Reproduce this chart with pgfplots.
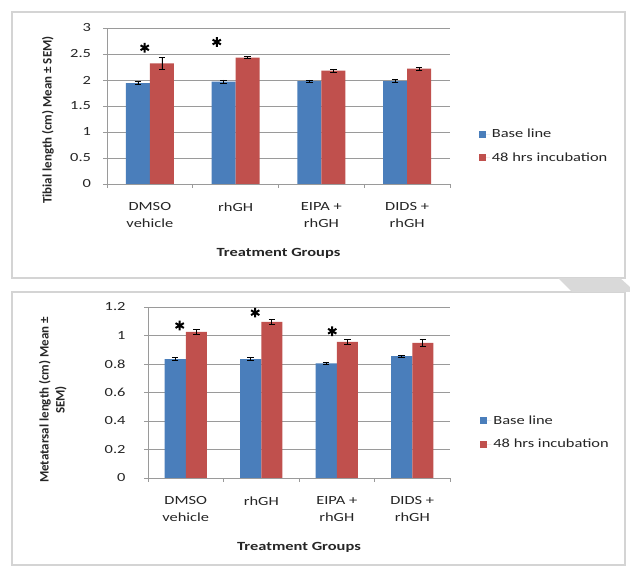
\documentclass[border=0pt]{standalone}
\usepackage{pgfplots}
\pgfplotsset{compat=1.18}
\usepackage{fontspec}
\setmainfont{Carlito}[FakeStretch=1.32]
\newfontfamily\plainC{Carlito}
\definecolor{blueC}{HTML}{4A7EBB}
\definecolor{redC}{HTML}{C0504D}
\definecolor{gridC}{HTML}{9A9A9A}
\definecolor{frameC}{HTML}{D4D4D4}
\definecolor{textC}{HTML}{262626}
\pgfplotsset{
  mystyle/.style={
    scale only axis, anchor=south west,
    xmin=-0.5, xmax=3.5, ymin=0,
    /pgf/number format/assume math mode=true,
    axis x line*=bottom, axis y line*=left,
    axis line style={draw=gridC, line width=0.8bp},
    ymajorgrids, major grid style={draw=gridC, line width=0.6bp},
    xtick={0,1,2,3},
    xticklabels={DMSO\\vehicle, rhGH, EIPA +\\rhGH, DIDS +\\rhGH},
    xticklabel style={align=center, font=\fontsize{12.5}{17}\selectfont, text=textC, yshift=-11bp},
    xtick style={draw=none},
    extra x ticks={-0.5,0.5,1.5,2.5,3.5}, extra x tick labels={},
    extra x tick style={xtick style={draw=gridC, line width=0.6bp}, grid=none},
    ytick style={draw=gridC, line width=0.6bp},
    tick align=outside, major tick length=4bp,
    yticklabel style={font=\fontsize{12.5}{15}\selectfont, text=textC, xshift=-8.5bp},
    xlabel={Treatment Groups},
    xlabel style={font=\bfseries\fontsize{12.5}{15}\selectfont, text=textC, anchor=center},
    ylabel style={font=\plainC\bfseries\fontsize{13}{16}\selectfont, text=textC, anchor=center, align=center},
    legend style={draw=none, fill=none, font=\fontsize{12.5}{15}\selectfont, text=textC, row sep=9bp, anchor=west},
    legend cell align=left,
  },
  bluebar/.style={ybar, bar width=0.28, bar shift=0pt, fill=blueC, draw=none,
    legend image code/.code={\fill[blueC] (0bp,-3.5bp) rectangle (7bp,3.5bp); \path (0bp,0bp) -- (11bp,0bp);},
    error bars/.cd, y dir=both, y explicit,
    error bar style={black, line width=0.7bp},
    error mark options={rotate=90, mark size=3.3bp, black, line width=0.7bp}},
  redbar/.style={ybar, bar width=0.28, bar shift=0pt, fill=redC, draw=none,
    legend image code/.code={\fill[redC] (0bp,-3.5bp) rectangle (7bp,3.5bp); \path (0bp,0bp) -- (11bp,0bp);},
    error bars/.cd, y dir=both, y explicit,
    error bar style={black, line width=0.7bp},
    error mark options={rotate=90, mark size=3.3bp, black, line width=0.7bp}},
  stars/.style={only marks, mark=asterisk, mark size=4.8bp, mark options={black, line width=2bp}, forget plot},
}
\begin{document}
\begin{tikzpicture}[x=1bp,y=1bp]
\fill[white] (0,0) rectangle (630,567);
% frames
\draw[frameC, line width=1.5bp] (12,555) rectangle (625,289);
\draw[frameC, line width=1.5bp] (12,275) rectangle (625,2);
\fill[black!15] (558,289) -- (620,289) -- (630,280) -- (630,275) -- (572,275) -- cycle;

% top chart
\begin{axis}[mystyle, at={(107bp,383bp)}, width=343bp, height=156bp,
  ymax=3, ytick={0,0.5,1,1.5,2,2.5,3},
  ylabel={Tibial length (cm) Mean ± SEM)},
  ylabel style={at={(rel axis cs:-0.172,0.41)}},
  xlabel style={at={(rel axis cs:0.5,-0.442)}},
  legend style={at={(rel axis cs:1.075,0.244)}}]
\addplot[bluebar] coordinates {(-0.14,1.94)+-(0,0.03) (0.86,1.97)+-(0,0.03) (1.86,1.98)+-(0,0.02) (2.86,1.98)+-(0,0.03)};
\addlegendentry{Base line}
\addplot[redbar] coordinates {(0.14,2.32)+-(0,0.11) (1.14,2.43)+-(0,0.02) (2.14,2.18)+-(0,0.03) (3.14,2.22)+-(0,0.03)};
\addlegendentry{48 hrs incubation}
\addplot[stars] coordinates {(-0.06,2.62) (0.78,2.73)};
\end{axis}

% bottom chart
\begin{axis}[mystyle, at={(148bp,89bp)}, width=302bp, height=171bp,
  ymax=1.2, ytick={0,0.2,0.4,0.6,0.8,1,1.2},
  ylabel={Metatarsal length (cm) Mean ±\\SEM)},
  ylabel style={at={(rel axis cs:-0.315,0.456)}},
  xlabel style={at={(rel axis cs:0.5,-0.404)}},
  yticklabel style={xshift=-6.5bp},
  legend style={at={(rel axis cs:1.09,0.266)}}]
\addplot[bluebar] coordinates {(-0.14,0.835)+-(0,0.01) (0.86,0.835)+-(0,0.01) (1.86,0.805)+-(0,0.01) (2.86,0.855)+-(0,0.008)};
\addlegendentry{Base line}
\addplot[redbar] coordinates {(0.14,1.025)+-(0,0.02) (1.14,1.095)+-(0,0.02) (2.14,0.955)+-(0,0.02) (3.14,0.948)+-(0,0.025)};
\addlegendentry{48 hrs incubation}
\addplot[stars] coordinates {(-0.08,1.07) (0.92,1.16) (1.94,1.03)};
\end{axis}
\end{tikzpicture}
\end{document}
